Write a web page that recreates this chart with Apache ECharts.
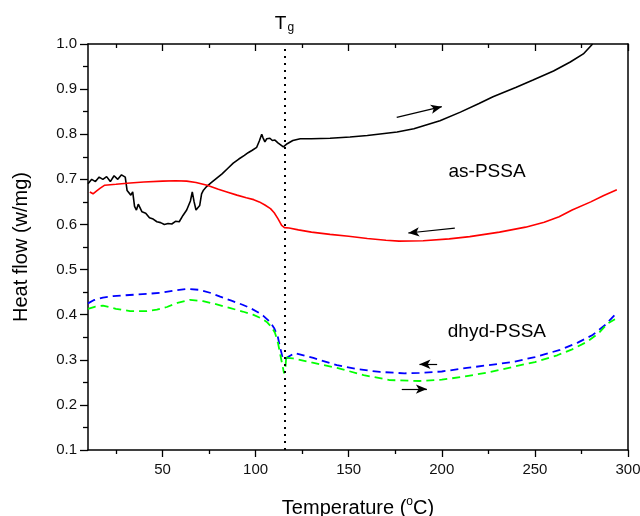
<!DOCTYPE html>
<html lang="en">
<head>
    <meta charset="UTF-8">
    <title>DSC heat flow</title>
    <script src="https://cdn.jsdelivr.net/npm/echarts@6/dist/echarts.min.js"></script>
    <style>
        html, body { margin: 0; padding: 0; background: #fff; }
    </style>
</head>
<body>
    <div id="main" style="width: 640px; height: 516px"></div>
<script>
    // as-PSSA, heating (black)
    const asHeat = [
        [10,0.69],[12,0.70],[14,0.695],[16,0.705],[18,0.70],[20,0.706],[22,0.695],[24,0.708],[26,0.70],[28,0.71],
        [30,0.705],[31,0.675],[33,0.665],[34,0.672],[35,0.64],[36,0.632],[37,0.645],[39,0.628],[41,0.625],[43,0.615],
        [45,0.612],[47,0.606],[49,0.604],[51,0.60],[53,0.602],[55,0.601],[57,0.607],[59,0.606],[61,0.62],[63,0.632],
        [65,0.652],[66,0.672],[67,0.65],[68,0.632],[70,0.642],[71,0.668],[72,0.676],[73.7,0.684],[76,0.692],[79,0.702],
        [82,0.712],[85,0.724],[88,0.736],[91,0.745],[94,0.753],[96,0.759],[98,0.764],[100.6,0.771],[102,0.785],[103.3,0.80],
        [104,0.792],[105,0.783],[106,0.79],[107.7,0.791],[109,0.786],[110.4,0.787],[112,0.781],[114.9,0.772],[117,0.779],[120,0.786],
        [124,0.79],[130,0.79],[140,0.791],[150.7,0.794],[160,0.797],[176,0.805],[185,0.812],[199,0.83],[210,0.849],[220,0.868],
        [227.5,0.883],[240,0.904],[249,0.92],[260,0.94],[269,0.96],[276,0.978],[281,1.0]
    ];
    // as-PSSA, cooling (red)
    const asCool = [
        [11,0.672],[12.7,0.668],[14.5,0.674],[16.4,0.68],[19,0.687],[25,0.689],[32.6,0.692],[40,0.694],[50,0.696],[57,0.697],
        [63,0.696],[68,0.693],[74,0.687],[80,0.678],[84.6,0.672],[90,0.665],[95,0.659],[99,0.655],[102,0.65],[105,0.643],
        [108,0.635],[110,0.626],[112,0.613],[114,0.598],[115.5,0.593],[118,0.592],[123,0.588],[130,0.583],[140,0.578],[150,0.574],
        [160,0.569],[170,0.565],[177,0.563],[190,0.564],[204,0.568],[215,0.573],[231,0.583],[245,0.594],[255,0.605],[263,0.617],
        [270,0.632],[280,0.65],[287,0.664],[294,0.677]
    ];
    // dhyd-PSSA, cooling (blue)
    const dhydCool = [
        [10,0.425],[13,0.432],[18,0.438],[23.5,0.441],[30,0.443],[41.7,0.446],[50,0.449],[57,0.454],[63,0.457],[70,0.455],
        [76,0.448],[81,0.44],[87,0.431],[93,0.422],[97,0.415],[101,0.406],[104,0.398],[107.7,0.384],[110,0.37],[112,0.35],
        [113,0.33],[114.5,0.305],[115.5,0.30],[117.4,0.306],[121,0.315],[131,0.304],[143.7,0.288],[155,0.279],[166.8,0.273],[180,0.27],
        [188,0.271],[200,0.274],[213.5,0.282],[225,0.288],[238,0.295],[250,0.306],[263.5,0.322],[273,0.338],[281,0.355],[288,0.378],
        [293,0.40]
    ];
    // dhyd-PSSA, heating (green)
    const dhydHeat = [
        [10,0.413],[14,0.418],[18,0.42],[25,0.413],[32.6,0.408],[41.7,0.408],[47,0.411],[52.4,0.417],[58,0.426],[64.8,0.433],
        [71.8,0.43],[78,0.424],[86,0.415],[93,0.407],[98.6,0.40],[103,0.392],[106,0.384],[108.5,0.373],[110.4,0.36],[112,0.338],
        [113,0.317],[114.3,0.29],[115.3,0.27],[116,0.28],[116.5,0.31],[117,0.304],[120,0.303],[130,0.294],[143.7,0.282],[158,0.266],
        [172,0.255],[188,0.253],[200,0.256],[211,0.262],[225,0.272],[238,0.284],[250,0.295],[262,0.31],[270,0.323],[278,0.34],
        [284,0.358],[289,0.38],[293,0.39]
    ];

    const Tg = 115.5;
    const xMajor = [50, 100, 150, 200, 250, 300];
    const xMinor = [25, 75, 125, 175, 225, 275];

    // arrows: [start, end] in data coords
    const arrowAsHeat = [[175.8, 0.8375], [200, 0.861]];
    const arrowAsCool = [[207, 0.592], [182, 0.581]];
    const arrowDhydCool = [[197.5, 0.29], [188, 0.29]];
    const arrowDhydHeat = [[178.5, 0.235], [192, 0.235]];

    // text labels: [name, x, y]
    const curveNames = [['as-PSSA', 224.3, 0.716], ['dhyd-PSSA', 229.6, 0.362]];

    const font = '"Liberation Sans", Arial, sans-serif';

    arrow = (a) => [
        { coord: a[0], symbol: 'none', label: { show: false } },
        { coord: a[1], symbol: 'arrow', symbolSize: [7, 11], label: { show: false },
          lineStyle: { color: '#000', width: 1.2, type: 'solid' } }
    ];

    arrowLine = (a) => ({
        silent: true, symbol: 'none', label: { show: false },
        lineStyle: { color: '#000', width: 1.2, type: 'solid' },
        data: [arrow(a)]
    });

    nameMark = (n) => ({
        silent: true, symbol: 'circle', symbolSize: 0,
        label: { show: true, position: 'inside', fontFamily: font, fontSize: 19, color: '#000', formatter: p => p.name },
        data: [{ name: n[0], coord: [n[1], n[2]] }]
    });

    xTicks = (pos, vals, len, inside, line, labels) => ({
        type: 'value', min: 10, max: 300, position: pos,
        axisLine: { show: line, lineStyle: { color: '#000', width: 1.5 } },
        axisTick: { show: true, inside: inside, length: len, customValues: vals, lineStyle: { color: '#000', width: 1.3 } },
        axisLabel: labels ? { customValues: vals, fontFamily: font, fontSize: 15, color: '#111', margin: 12 } : { show: false },
        splitLine: { show: false }
    });

    let xMain = xTicks('bottom', xMajor, 7, false, true, true);
    xMain.name = 'Temperature ({s|o}C)';
    xMain.nameLocation = 'middle';
    xMain.nameGap = 46;
    xMain.nameTextStyle = { fontFamily: font, fontSize: 20, color: '#000',
        rich: { s: { fontFamily: font, fontSize: 12, color: '#000', verticalAlign: 'top', padding: [0, 0, 12, 0] } } };

    let option = {
        backgroundColor: '#fff',
        animation: false,
        grid: { left: 88, right: 12, top: 44, bottom: 66, containLabel: false, outerBoundsMode: 'none' },
        xAxis: [
            xMain,
            xTicks('bottom', xMinor, 4, false, false, false),
            xTicks('top', xMajor, 7, true, true, false),
            xTicks('top', xMinor, 4, true, false, false)
        ],
        yAxis: [
            {
                type: 'value', min: 0.1, max: 1.0, interval: 0.1, position: 'left',
                name: 'Heat flow (w/mg)', nameLocation: 'middle', nameGap: 57,
                nameTextStyle: { fontFamily: font, fontSize: 20, color: '#000' },
                axisLine: { lineStyle: { color: '#000', width: 1.5 } },
                axisTick: { show: true, inside: false, length: 8, lineStyle: { color: '#000', width: 1.3 } },
                minorTick: { show: true, splitNumber: 2, length: 5, lineStyle: { color: '#000', width: 1.3 } },
                axisLabel: { fontFamily: font, fontSize: 15, color: '#111', margin: 11,
                    formatter: v => v.toFixed(1) },
                splitLine: { show: false }
            },
            {
                type: 'value', min: 0.1, max: 1.0, position: 'right',
                axisLine: { show: true, lineStyle: { color: '#000', width: 1.5 } },
                axisTick: { show: false }, axisLabel: { show: false }, splitLine: { show: false }
            }
        ],
        series: [
            {
                name: 'as-PSSA heating', type: 'line', data: asHeat, showSymbol: false,
                lineStyle: { color: '#000', width: 1.6 }, itemStyle: { color: '#000' },
                markLine: {
                    silent: true, symbol: 'none',
                    lineStyle: { color: '#000', type: [2, 5], width: 2 },
                    label: {
                        show: true, position: 'end', distance: 10,
                        formatter: '{t|T}{g|g}',
                        rich: {
                            t: { fontFamily: font, fontSize: 19, color: '#000' },
                            g: { fontFamily: font, fontSize: 12, color: '#000', verticalAlign: 'bottom', padding: [9, 0, 0, 1] }
                        }
                    },
                    data: [{ xAxis: Tg }]
                },
                markPoint: nameMark(curveNames[0])
            },
            {
                name: 'as-PSSA heating arrow', type: 'line', data: [], showSymbol: false,
                markLine: arrowLine(arrowAsHeat)
            },
            {
                name: 'as-PSSA cooling', type: 'line', data: asCool, showSymbol: false,
                lineStyle: { color: '#ff0000', width: 1.6 }, itemStyle: { color: '#ff0000' },
                markLine: arrowLine(arrowAsCool)
            },
            {
                name: 'dhyd-PSSA cooling', type: 'line', data: dhydCool, showSymbol: false,
                lineStyle: { color: '#0000ff', width: 1.8, type: [8, 5] }, itemStyle: { color: '#0000ff' },
                markLine: arrowLine(arrowDhydCool),
                markPoint: nameMark(curveNames[1])
            },
            {
                name: 'dhyd-PSSA heating', type: 'line', data: dhydHeat, showSymbol: false,
                lineStyle: { color: '#00ff00', width: 1.8, type: [8, 5] }, itemStyle: { color: '#00ff00' },
                markLine: arrowLine(arrowDhydHeat)
            }
        ]
    };

    var myChart = echarts.init(document.getElementById('main'));
    myChart.setOption(option);
</script>
</body>
</html>
